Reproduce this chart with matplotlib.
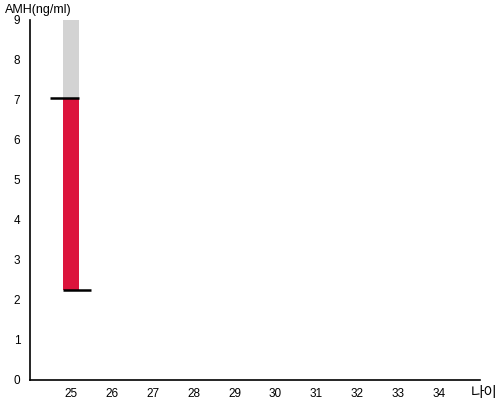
import matplotlib
matplotlib.use("Agg")
import matplotlib.pyplot as plt

plt.rcParams['font.family'] = ['Liberation Sans', 'Noto Sans CJK KR', 'DejaVu Sans']

ages = [25, 26, 27, 28, 29, 30, 31, 32, 33, 34]
age = 25
amh_low = 2.25
amh_high = 7.05
amh_max = 9

fig = plt.figure(figsize=(5, 4), dpi=100)
ax = fig.add_axes([0.06, 0.05, 0.90, 0.90])

w = 0.4
# gray part above the range
ax.bar(age, amh_max - amh_high, bottom=amh_high, width=w, color='#d3d3d3', zorder=1)
# red range
ax.bar(age, amh_high - amh_low, bottom=amh_low, width=w, color='#dc143c', zorder=2)
# markers
ax.plot([age - 0.5, age + w / 2], [amh_high, amh_high], color='black', lw=1.8, zorder=3, solid_capstyle='butt')
ax.plot([age - w / 2, age + 0.5], [amh_low, amh_low], color='black', lw=1.8, zorder=3, solid_capstyle='butt')

ax.set_xlim(24, 35)
ax.set_ylim(0, 9)
ax.set_xticks(ages)
ax.set_yticks(range(0, 10))
ax.tick_params(axis='x', length=0, labelsize=8.5, pad=6)
ax.tick_params(axis='y', length=0, labelsize=8.5, pad=7)
ax.spines['top'].set_visible(False)
ax.spines['right'].set_visible(False)
ax.spines['left'].set_linewidth(1.2)
ax.spines['bottom'].set_linewidth(1.2)

fig.text(0.01, 0.975, 'AMH(ng/ml)', fontsize=9, ha='left', va='center')
fig.text(0.995, 0.018, '나이', fontsize=10.5, ha='right', va='center')

fig.savefig('out.png', dpi=100)
